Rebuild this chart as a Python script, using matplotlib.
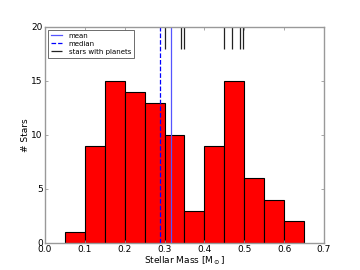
import matplotlib
matplotlib.use("Agg")
import matplotlib.pyplot as plt
import numpy as np

bin_edges = [0.05, 0.10, 0.15, 0.20, 0.25, 0.30, 0.35, 0.40, 0.45, 0.50, 0.55, 0.60, 0.65]
counts = [1, 9, 15, 14, 13, 10, 3, 9, 15, 6, 4, 2]
mean_mass = 0.317
median_mass = 0.289
planet_host_masses = [0.30, 0.34, 0.35, 0.45, 0.47, 0.49, 0.498]

plt.rcParams['font.family'] = ['DejaVu Sans']
plt.rcParams['font.size'] = 6.5

fig = plt.figure(figsize=(3.6, 2.7), dpi=100)
ax = fig.add_subplot(111)
fig.subplots_adjust(left=0.125, right=0.9, bottom=0.1, top=0.9)

edges = np.array(bin_edges)
ax.hist(edges[:-1] + 0.025, bins=edges, weights=counts, facecolor='red',
        edgecolor='black', linewidth=0.8)

ax.axvline(mean_mass, color='#5555ff', linestyle='-', linewidth=0.9, label='mean')
ax.axvline(median_mass, color='blue', linestyle='--', linewidth=0.9, label='median')
ax.vlines(planet_host_masses, 18, 20, color='#222222', linewidth=0.9,
          label='stars with planets')

ax.set_xlim(0, 0.7)
ax.set_ylim(0, 20)
ax.set_xticks(np.arange(0, 0.71, 0.1))
ax.set_yticks([0, 5, 10, 15, 20])
ax.set_xlabel(r'Stellar Mass [M$_\odot$]', labelpad=0.5)
ax.set_ylabel('# Stars', labelpad=1)

for s in ax.spines.values():
    s.set_color('#999999')
    s.set_linewidth(1.0)
ax.tick_params(direction='in', top=True, right=True, color='#999999',
               length=2.5, width=0.6, pad=1.5, labelsize=6.5)

leg = ax.legend(loc='upper left', fontsize=5, fancybox=False, framealpha=1,
                edgecolor='#555555', handlelength=1.6, handletextpad=1.0,
                borderpad=0.4, labelspacing=0.3, borderaxespad=0.4)
leg.get_frame().set_linewidth(0.6)

fig.savefig('out.png', dpi=100)
